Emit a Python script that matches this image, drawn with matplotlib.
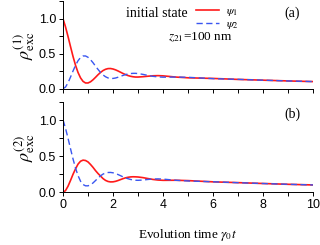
import matplotlib
matplotlib.use("Agg")
import matplotlib.pyplot as plt
from matplotlib.ticker import MultipleLocator

plt.rcParams["mathtext.fontset"] = "stix"
plt.rcParams["font.family"] = ["Liberation Sans", "DejaVu Sans"]

# time grid (gamma_0 t)
t = [0.0, 0.1, 0.2, 0.3, 0.4, 0.5, 0.6, 0.7, 0.8, 0.9,
     1.0, 1.1, 1.2, 1.3, 1.4, 1.5, 1.6, 1.7, 1.8, 1.9,
     2.0, 2.1, 2.2, 2.3, 2.4, 2.5, 2.6, 2.7, 2.8, 2.9,
     3.0, 3.2, 3.4, 3.6, 3.8, 4.0, 4.5, 5.0, 6.0, 7.0, 8.0, 9.0, 10.0]

# panel (a): rho_exc^(1)
a_psi1 = [1.0, 0.884, 0.747, 0.602, 0.461, 0.335, 0.232, 0.155, 0.105, 0.082,
          0.082, 0.099, 0.128, 0.163, 0.2, 0.233, 0.26, 0.278, 0.288, 0.289,
          0.282, 0.27, 0.254, 0.236, 0.218, 0.202, 0.188, 0.178, 0.171, 0.167,
          0.167, 0.172, 0.179, 0.185, 0.187, 0.184, 0.167, 0.156, 0.147, 0.133,
          0.122, 0.111, 0.102]
a_psi2 = [0.0, 0.024, 0.085, 0.167, 0.254, 0.335, 0.401, 0.447, 0.469, 0.469,
          0.45, 0.415, 0.372, 0.323, 0.276, 0.233, 0.197, 0.171, 0.154, 0.146,
          0.147, 0.153, 0.164, 0.177, 0.19, 0.202, 0.211, 0.217, 0.22, 0.22,
          0.217, 0.205, 0.19, 0.177, 0.169, 0.165, 0.167, 0.163, 0.144, 0.134,
          0.122, 0.111, 0.102]

# panel (b): rho_exc^(2)
b_psi1 = [0.0, 0.024, 0.085, 0.165, 0.25, 0.325, 0.39, 0.43, 0.445, 0.44,
          0.42, 0.385, 0.345, 0.3, 0.26, 0.225, 0.19, 0.165, 0.15, 0.144,
          0.145, 0.152, 0.163, 0.176, 0.189, 0.2, 0.208, 0.213, 0.215, 0.214,
          0.212, 0.203, 0.19, 0.178, 0.17, 0.166, 0.167, 0.162, 0.145, 0.134,
          0.122, 0.111, 0.102]
b_psi2 = [1.0, 0.884, 0.747, 0.602, 0.461, 0.335, 0.231, 0.154, 0.108, 0.09,
          0.09, 0.104, 0.13, 0.163, 0.197, 0.228, 0.252, 0.267, 0.274, 0.275,
          0.27, 0.26, 0.246, 0.23, 0.214, 0.2, 0.188, 0.178, 0.171, 0.167,
          0.166, 0.17, 0.178, 0.184, 0.186, 0.183, 0.167, 0.157, 0.146, 0.133,
          0.122, 0.111, 0.102]

RED = "#ff1a1a"
BLUE = "#3a56f0"
SERIF = "Liberation Serif"

fig = plt.figure(figsize=(3.2, 2.45), dpi=100)
ax1 = fig.add_axes([0.197, 0.638, 0.781, 0.356])
ax2 = fig.add_axes([0.197, 0.215, 0.781, 0.369])

for ax, y1, y2, n in [(ax1, a_psi1, a_psi2, 1), (ax2, b_psi1, b_psi2, 2)]:
    ax.plot(t, y1, color=RED, lw=1.2, label=r"$\psi_1$")
    ax.plot(t, y2, color=BLUE, lw=1.0, ls=(0, (4.5, 2.5)), label=r"$\psi_2$")
    ax.set_xlim(0, 10)
    ax.set_ylim(0, 1.25)
    ax.spines["top"].set_visible(False)
    ax.spines["right"].set_visible(False)
    ax.spines["left"].set_linewidth(0.7)
    ax.spines["bottom"].set_linewidth(0.7)
    ax.xaxis.set_major_locator(MultipleLocator(2))
    ax.xaxis.set_minor_locator(MultipleLocator(1))
    ax.yaxis.set_major_locator(MultipleLocator(0.5))
    ax.yaxis.set_minor_locator(MultipleLocator(0.25))
    ax.tick_params(which="both", direction="out", width=0.7, length=3,
                   labelsize=9, pad=2)
    ax.set_yticks([0.0, 0.5, 1.0])
    ax.set_yticklabels(["0.0", "0.5", "1.0"])
    ax.set_ylabel(r"$\rho_{\rm exc}^{(%d)}$" % n, fontsize=13, labelpad=1)

ax1.tick_params(labelbottom=False)
ax2.set_xlabel(r"Evolution time $\gamma_0 t$", fontsize=9.5, family=SERIF,
               labelpad=11)

leg = ax1.legend(loc="upper left", bbox_to_anchor=(0.5, 1.05), frameon=False,
                 fontsize=8.5, handlelength=1.9, handletextpad=0.6,
                 labelspacing=0.0, borderpad=0.2)
ax1.text(0.252, 0.82, "initial state", transform=ax1.transAxes,
         fontsize=10, family=SERIF)
ax1.text(0.42, 0.56, r"$z_{21}$=100 nm", transform=ax1.transAxes,
         fontsize=9.5, family=SERIF)
ax1.text(0.885, 0.82, "(a)", transform=ax1.transAxes, fontsize=10, family=SERIF)
ax2.text(0.885, 0.82, "(b)", transform=ax2.transAxes, fontsize=10, family=SERIF)

fig.savefig("out.png", dpi=100)
